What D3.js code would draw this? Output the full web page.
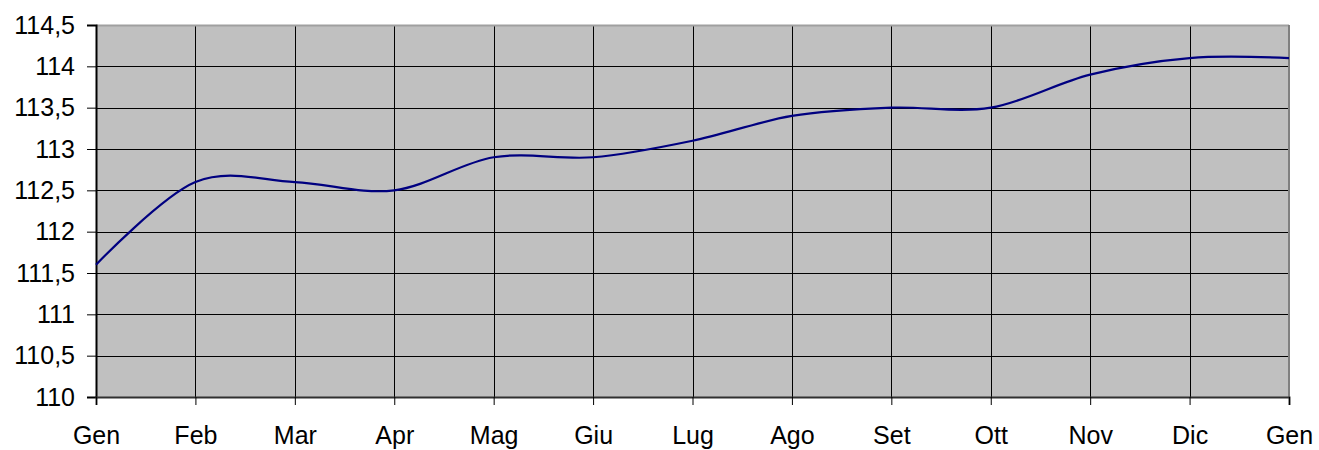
<!DOCTYPE html>
<html>
<head>
<meta charset="utf-8">
<script src="https://cdn.jsdelivr.net/npm/d3@7"></script>
<style>
  body { margin: 0; background: #fff; }
  text { font-family: 'Liberation Sans', Arial, sans-serif; }
</style>
</head>
<body>
<svg id="container"></svg>
<script>
const months = ['Gen', 'Feb', 'Mar', 'Apr', 'Mag', 'Giu', 'Lug', 'Ago', 'Set', 'Ott', 'Nov', 'Dic', 'Gen'];
const values = [111.6, 112.6, 112.6, 112.5, 112.9, 112.9, 113.1, 113.4, 113.5, 113.5, 113.9, 114.1, 114.1];
const yTicks = [110, 110.5, 111, 111.5, 112, 112.5, 113, 113.5, 114, 114.5];

const margin = { top: 25, right: 30, bottom: 53, left: 96 };
const W = 1319, H = 450;
const w = W - margin.left - margin.right;
const h = H - margin.top - margin.bottom;

const svg = d3.select('#container').attr('width', W).attr('height', H);
const g = svg.append('g').attr('transform', 'translate(' + margin.left + ',' + margin.top + ')');

const xScale = d3.scaleLinear().domain([0, months.length - 1]).range([0, w]);
const yScale = d3.scaleLinear().domain([110, 114.5]).range([h, 0]);

// plot background
g.append('rect')
  .attr('width', w)
  .attr('height', h)
  .attr('fill', '#c0c0c0');

// grid lines
g.selectAll('.hgrid')
  .data(yTicks.slice(1, -1))
  .enter()
  .append('line')
  .attr('x1', 0).attr('x2', w)
  .attr('y1', (d) => Math.round(yScale(d)) + 0.5)
  .attr('y2', (d) => Math.round(yScale(d)) + 0.5)
  .attr('stroke', '#000')
  .attr('stroke-width', 1);

g.selectAll('.vgrid')
  .data(d3.range(1, months.length - 1))
  .enter()
  .append('line')
  .attr('y1', 0).attr('y2', h)
  .attr('x1', (d) => Math.round(xScale(d)) + 0.5)
  .attr('x2', (d) => Math.round(xScale(d)) + 0.5)
  .attr('stroke', '#000')
  .attr('stroke-width', 1);

// frame: top and right in gray
g.append('line').attr('x1', 0).attr('x2', w).attr('y1', 0.5).attr('y2', 0.5)
  .attr('stroke', '#a0a0a0').attr('stroke-width', 2);
g.append('line').attr('x1', w).attr('x2', w).attr('y1', 0).attr('y2', h)
  .attr('stroke', '#808080').attr('stroke-width', 2);

// axes
const yAxis = d3.axisLeft(yScale)
  .tickValues(yTicks)
  .tickSize(9)
  .tickPadding(12)
  .tickFormat((d) => String(d).replace('.', ','));
const gY = g.append('g').call(yAxis);
gY.select('.domain').attr('stroke', '#000').attr('stroke-width', 2);
gY.selectAll('.tick line').attr('stroke', '#000');
gY.selectAll('.tick text')
  .attr('font-size', 25)
  .attr('fill', '#000')
  .attr('font-family', "'Liberation Sans', Arial, sans-serif");

const xAxis = d3.axisBottom(xScale)
  .tickValues(d3.range(months.length))
  .tickSize(8)
  .tickPadding(21)
  .tickFormat((d) => months[d]);
const gX = g.append('g').attr('transform', 'translate(0,' + h + ')').call(xAxis);
gX.select('.domain').attr('stroke', '#303030').attr('stroke-width', 2);
gX.selectAll('.tick line').attr('stroke', '#000');
gX.selectAll('.tick text')
  .attr('font-size', 25)
  .attr('fill', '#000')
  .attr('font-family', "'Liberation Sans', Arial, sans-serif");

// smoothed series line
const line = d3.line()
  .x((d, i) => xScale(i))
  .y((d) => yScale(d))
  .curve(d3.curveCardinal.tension(0));

g.append('path')
  .datum(values)
  .attr('d', line)
  .attr('fill', 'none')
  .attr('stroke', '#000080')
  .attr('stroke-width', 2.2);
</script>
</body>
</html>
